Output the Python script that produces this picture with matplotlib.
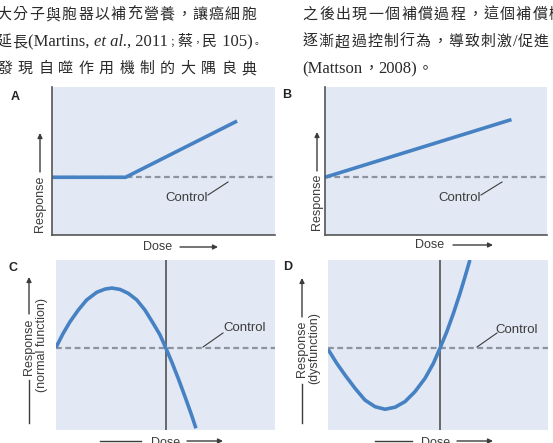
import matplotlib
matplotlib.use("Agg")
import matplotlib.pyplot as plt
from matplotlib.lines import Line2D
from matplotlib.patches import FancyArrowPatch

W, H = 553, 443

# page text above the figure (pieces: c = CJK cell, l = latin, i = italic latin, p = narrow punctuation)
left_line1 = [("大分子與胞器以補充營養，讓癌細胞", "c")]
left_line2 = [("延長", "c"), ("(Martins, ", "l"), ("et al.", "i"), (", 2011", "l"),
              ("；", "p"), ("蔡", "c"), ("，", "p"), ("民", "c"), (" 105)", "l"), ("。", "p")]
left_line3 = "發現自噬作用機制的大隅良典"
right_line1 = [("之後出現一個補償過程，這個補償機", "c")]
right_line2 = [("逐漸超過控制行為，導致刺激", "c"), ("/", "l"), ("促進", "c")]
right_line3 = [("(Mattson", "l"), ("，", "c"), ("2008)", "l"), ("。", "c")]

# panel data (dose 0-10, response 0-10)
control_level = {"A": 3.9, "B": 3.9, "C": 4.81, "D": 4.81}
threshold_dose = {"C": 5.02, "D": 5.09}

dose_a = [0, 3.3, 8.3]
resp_a = [3.9, 3.9, 7.7]

dose_b = [0, 8.4]
resp_b = [3.9, 7.8]

dose_c = [0, 0.33, 0.64, 1.02, 1.40, 1.86, 2.24, 2.55, 2.92, 3.30, 3.69, 4.06,
          4.44, 4.75, 5.02, 5.28, 5.58, 5.89, 6.19, 6.39]
resp_c = [4.86, 5.69, 6.37, 7.06, 7.65, 8.10, 8.29, 8.35, 8.27, 8.04, 7.65, 7.06,
          6.27, 5.59, 4.81, 4.02, 3.04, 1.96, 0.88, 0.10]

dose_d = [0, 0.40, 0.77, 1.23, 1.68, 2.14, 2.59, 3.05, 3.50, 3.95, 4.41, 4.79,
          5.09, 5.40, 5.70, 6.00, 6.23, 6.45]
resp_d = [4.75, 3.92, 3.24, 2.45, 1.76, 1.37, 1.22, 1.34, 1.67, 2.25, 3.04, 3.92,
          4.81, 5.78, 6.86, 8.04, 9.02, 10.0]

BG = "#e3e9f4"
BLUE = "#4682c3"
DASH = "#8c949e"
INK = "#3c3c3c"

fig = plt.figure(figsize=(W / 100, H / 100), dpi=100)
fig.patch.set_facecolor("white")
renderer = fig.canvas.get_renderer()


def fx(px):
    return px / W


def fy(py):
    return 1 - py / H


def panel(x0, y0, x1, y1):
    ax = fig.add_axes([fx(x0), fy(y1), (x1 - x0) / W, (y1 - y0) / H])
    ax.set_xlim(0, 10)
    ax.set_ylim(0, 10)
    ax.set_facecolor(BG)
    ax.set_xticks([])
    ax.set_yticks([])
    return ax


def fline(x0, y0, x1, y1, lw=1.0, color=INK):
    fig.add_artist(Line2D([fx(x0), fx(x1)], [fy(y0), fy(y1)], transform=fig.transFigure,
                          lw=lw, color=color))


def farrow(x0, y0, x1, y1):
    fig.add_artist(FancyArrowPatch(
        (fx(x0), fy(y0)), (fx(x1), fy(y1)), transform=fig.transFigure,
        arrowstyle="-|>", mutation_scale=7, lw=1.0, color=INK, shrinkA=0, shrinkB=0))


def ftext(x, y, s, **kw):
    kw.setdefault("color", INK)
    kw.setdefault("fontsize", 9)
    kw.setdefault("family", ["Liberation Sans", "DejaVu Sans"])
    return fig.text(fx(x), fy(y), s, **kw)


# ---- page text
CJK = ["Noto Sans CJK TC", "DejaVu Sans"]
SERIF = ["Liberation Serif", "Noto Sans CJK TC"]
TCOL = "#2a2a2a"
CFS = 10.8
LFS = 12


def write_line(x, y, pieces, pitch):
    for s, kind in pieces:
        if kind == "c":
            for ch in s:
                ftext(x + pitch / 2, y, ch, fontsize=CFS, family=CJK, color=TCOL,
                      ha="center", va="center")
                x += pitch
        elif kind == "p":
            # narrow punctuation: smaller box so it sits tight between cells
            ftext(x + 4.5, y + 1, s, fontsize=7, family=CJK, color=TCOL, ha="center", va="center")
            x += 9
        else:
            t = ftext(x, y, s, fontsize=LFS, family=SERIF, color=TCOL, va="center",
                      style="italic" if kind == "i" else "normal")
            x += t.get_window_extent(renderer).width


write_line(-4, 15, left_line1, 16.3)
write_line(-4, 42, left_line2, 16.0)
for i, ch in enumerate(left_line3):
    ftext(5 + i * 20.3, 69, ch, fontsize=CFS, family=CJK, color=TCOL, ha="center", va="center")
write_line(302, 15, right_line1, 16.4)
write_line(302, 42, right_line2, 16.2)
write_line(302, 69, right_line3, 16.2)

# ---- panel A
ax = panel(52, 87, 275, 235)
ax.axhline(control_level["A"], color=DASH, lw=1.6, ls=(0, (2.6, 1.6)))
ax.plot(dose_a, resp_a, color=BLUE, lw=2.6, solid_capstyle="butt")
for sp in ["top", "right"]:
    ax.spines[sp].set_visible(False)
for sp in ["left", "bottom"]:
    ax.spines[sp].set_color("#555555")
    ax.spines[sp].set_linewidth(1.2)
ftext(15, 97, "A", fontsize=9, weight="bold", color="#222222", ha="center", va="center")
ftext(187, 198, "Control", fontsize=9.5, ha="center", va="center")
fline(208, 195, 228, 182, lw=0.8)
ftext(158, 247, "Dose", ha="center", va="center")
farrow(180, 247, 218, 247)
ftext(40, 204, "Response", rotation=90, ha="center", va="center")
farrow(40, 172, 40, 133)

# ---- panel B
ax = panel(325, 87, 547, 235)
ax.axhline(control_level["B"], color=DASH, lw=1.6, ls=(0, (2.6, 1.6)))
ax.plot(dose_b, resp_b, color=BLUE, lw=2.6, solid_capstyle="butt")
for sp in ["top", "right"]:
    ax.spines[sp].set_visible(False)
for sp in ["left", "bottom"]:
    ax.spines[sp].set_color("#555555")
    ax.spines[sp].set_linewidth(1.2)
ftext(287, 95, "B", fontsize=9, weight="bold", color="#222222", ha="center", va="center")
ftext(460, 198, "Control", fontsize=9.5, ha="center", va="center")
fline(481, 195, 502, 182, lw=0.8)
ftext(430, 245, "Dose", ha="center", va="center")
farrow(453, 245, 493, 245)
ftext(317, 202, "Response", rotation=90, ha="center", va="center")
farrow(317, 171, 317, 132)

# ---- panel C
ax = panel(56, 260, 275, 430)
for sp in ax.spines.values():
    sp.set_visible(False)
ax.axhline(control_level["C"], color=DASH, lw=1.6, ls=(0, (2.6, 1.6)))
ax.axvline(threshold_dose["C"], color="#444444", lw=1.1)
ax.plot(dose_c, resp_c, color=BLUE, lw=2.6, solid_capstyle="butt", solid_joinstyle="round")
ftext(13, 268, "C", fontsize=9, weight="bold", color="#222222", ha="center", va="center")
ftext(245, 328, "Control", fontsize=9.5, ha="center", va="center")
fline(203, 347, 223, 333, lw=0.8)
ftext(29, 347, "Response", rotation=90, ha="center", va="center")
ftext(42, 345, "(normal function)", rotation=90, ha="center", va="center")
fline(29, 380, 29, 423)
farrow(29, 314, 29, 277)
fline(100, 441, 141, 441)
ftext(166, 437, "Dose", ha="center", va="top")
farrow(187, 441, 223, 441)

# ---- panel D
ax = panel(328, 260, 548, 430)
for sp in ax.spines.values():
    sp.set_visible(False)
ax.axhline(control_level["D"], color=DASH, lw=1.6, ls=(0, (2.6, 1.6)))
ax.axvline(threshold_dose["D"], color="#444444", lw=1.1)
ax.plot(dose_d, resp_d, color=BLUE, lw=2.6, solid_capstyle="butt", solid_joinstyle="round")
ftext(288, 267, "D", fontsize=9, weight="bold", color="#222222", ha="center", va="center")
ftext(517, 330, "Control", fontsize=9.5, ha="center", va="center")
fline(477, 347, 497, 333, lw=0.8)
ftext(302, 349, "Response", rotation=90, ha="center", va="center")
ftext(314, 348, "(dysfunction)", rotation=90, ha="center", va="center")
fline(302, 384, 302, 423)
farrow(302, 317, 302, 278)
fline(375, 441, 412, 441)
ftext(436, 437, "Dose", ha="center", va="top")
farrow(457, 441, 493, 441)

fig.savefig("out.png", dpi=100)
